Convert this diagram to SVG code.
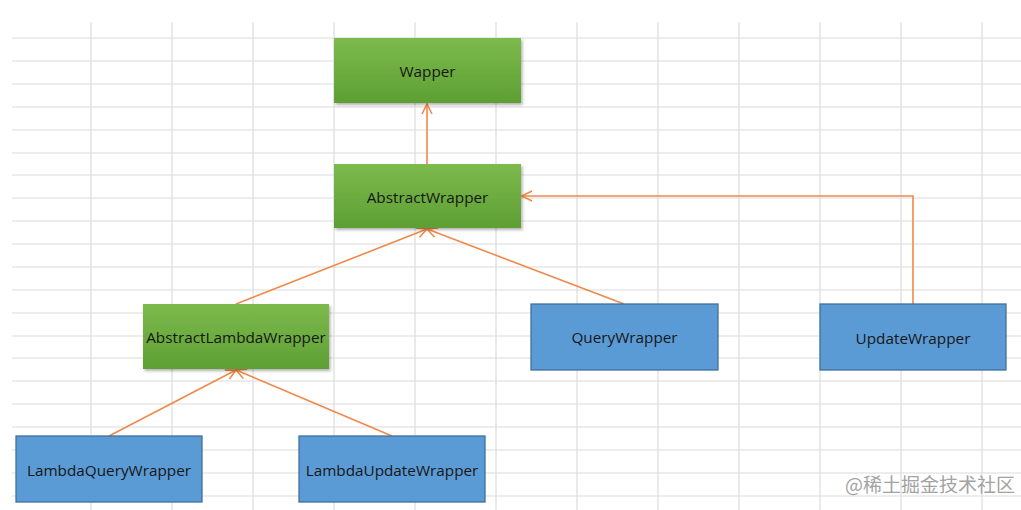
<svg xmlns="http://www.w3.org/2000/svg" width="1021" height="510" viewBox="0 0 1021 510">
<defs>
<linearGradient id="gGreen" x1="0" y1="0" x2="0" y2="1">
<stop offset="0" stop-color="#7cba4c"/>
<stop offset="1" stop-color="#5e9f34"/>
</linearGradient>
<filter id="shadow" x="-10%" y="-10%" width="125%" height="130%">
<feDropShadow dx="1.5" dy="2" stdDeviation="1.5" flood-color="#000" flood-opacity="0.3"/>
</filter>
<marker id="arr" viewBox="0 0 12 12" refX="11" refY="6" markerWidth="12" markerHeight="12" markerUnits="userSpaceOnUse" orient="auto">
<path d="M1,1 L11,6 L1,11" fill="none" stroke="#f0894a" stroke-width="1.6"/>
</marker>
<style>
.grid line{stroke:#dcdcdc;stroke-width:1.2}
.green{fill:url(#gGreen);filter:url(#shadow)}
.blue{fill:#5b9bd5;stroke:#41719c;stroke-width:1.3}
.lbl{font-family:"Open Sans","Noto Sans","Liberation Sans",sans-serif;font-size:15.3px;text-anchor:middle;dominant-baseline:central;fill:#161616}
.conn{fill:none;stroke:#f0894a;stroke-width:1.6;marker-end:url(#arr)}
.wm{font-family:"Noto Sans CJK SC","Noto Sans",sans-serif;font-size:19px;fill:#a3a3a3}
</style>
</defs>
<rect width="1021" height="510" fill="#ffffff"/>
<g class="grid">
<line x1="12" y1="38" x2="1021" y2="38"/>
<line x1="12" y1="61" x2="1021" y2="61"/>
<line x1="12" y1="84" x2="1021" y2="84"/>
<line x1="12" y1="107" x2="1021" y2="107"/>
<line x1="12" y1="130" x2="1021" y2="130"/>
<line x1="12" y1="153" x2="1021" y2="153"/>
<line x1="12" y1="175" x2="1021" y2="175"/>
<line x1="12" y1="198" x2="1021" y2="198"/>
<line x1="12" y1="221" x2="1021" y2="221"/>
<line x1="12" y1="244" x2="1021" y2="244"/>
<line x1="12" y1="267" x2="1021" y2="267"/>
<line x1="12" y1="290" x2="1021" y2="290"/>
<line x1="12" y1="313" x2="1021" y2="313"/>
<line x1="12" y1="336" x2="1021" y2="336"/>
<line x1="12" y1="358" x2="1021" y2="358"/>
<line x1="12" y1="381" x2="1021" y2="381"/>
<line x1="12" y1="404" x2="1021" y2="404"/>
<line x1="12" y1="427" x2="1021" y2="427"/>
<line x1="12" y1="450" x2="1021" y2="450"/>
<line x1="12" y1="473" x2="1021" y2="473"/>
<line x1="12" y1="496" x2="1021" y2="496"/>
<line x1="91" y1="22" x2="91" y2="510"/>
<line x1="172" y1="22" x2="172" y2="510"/>
<line x1="253" y1="22" x2="253" y2="510"/>
<line x1="334" y1="22" x2="334" y2="510"/>
<line x1="415" y1="22" x2="415" y2="510"/>
<line x1="496" y1="22" x2="496" y2="510"/>
<line x1="577" y1="22" x2="577" y2="510"/>
<line x1="658" y1="22" x2="658" y2="510"/>
<line x1="739" y1="22" x2="739" y2="510"/>
<line x1="820" y1="22" x2="820" y2="510"/>
<line x1="901" y1="22" x2="901" y2="510"/>
<line x1="982" y1="22" x2="982" y2="510"/>
</g>
<g id="connectors">
<path class="conn" d="M427,164 L427,104"/>
<path class="conn" d="M236,304 L427,229"/>
<path class="conn" d="M624,304 L427,229"/>
<path class="conn" d="M913,304 L913,196 L522,196"/>
<path class="conn" d="M109,436 L236,370"/>
<path class="conn" d="M392,436 L236,370"/>
</g>
<g id="wapper">
<rect class="green" x="334" y="38" width="187" height="65"/>
<text class="lbl" x="427.5" y="71">Wapper</text>
</g>
<g id="abstractWrapper">
<rect class="green" x="334" y="164" width="187" height="64"/>
<text class="lbl" x="427.5" y="197">AbstractWrapper</text>
</g>
<g id="abstractLambdaWrapper">
<rect class="green" x="143" y="304" width="186" height="65"/>
<text class="lbl" x="236" y="337">AbstractLambdaWrapper</text>
</g>
<g id="queryWrapper">
<rect class="blue" x="531" y="304" width="187" height="66"/>
<text class="lbl" x="624.5" y="337">QueryWrapper</text>
</g>
<g id="updateWrapper">
<rect class="blue" x="820" y="304" width="186" height="66"/>
<text class="lbl" x="913" y="338">UpdateWrapper</text>
</g>
<g id="lambdaQueryWrapper">
<rect class="blue" x="16" y="436" width="186" height="66"/>
<text class="lbl" x="109" y="470">LambdaQueryWrapper</text>
</g>
<g id="lambdaUpdateWrapper">
<rect class="blue" x="299" y="436" width="186" height="66"/>
<text class="lbl" x="392" y="470">LambdaUpdateWrapper</text>
</g>
<text class="wm" x="845" y="492">@稀土掘金技术社区</text>
</svg>
